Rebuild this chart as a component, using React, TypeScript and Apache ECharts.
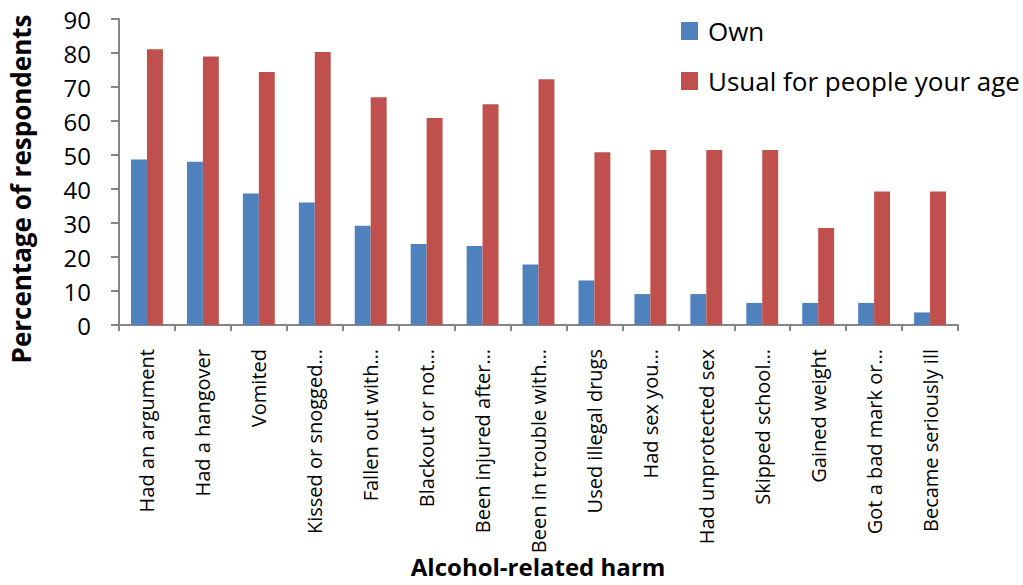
import React, { useEffect, useRef } from "react";
import * as echarts from "echarts";

const categories = [
  "Had an argument",
  "Had a hangover",
  "Vomited",
  "Kissed or snogged…",
  "Fallen out with…",
  "Blackout or not…",
  "Been injured after…",
  "Been in trouble with…",
  "Used illegal drugs",
  "Had sex you…",
  "Had unprotected sex",
  "Skipped school…",
  "Gained weight",
  "Got a bad mark or…",
  "Became seriously ill",
];
const ownValues = [48.7, 48.0, 38.7, 36.0, 29.2, 23.8, 23.2, 17.8, 13.1, 9.1, 9.1, 6.5, 6.5, 6.5, 3.7];
const usualValues = [81.1, 79.0, 74.4, 80.3, 67.0, 60.9, 64.9, 72.3, 50.8, 51.5, 51.5, 51.5, 28.5, 39.3, 39.3];
const seriesNames = ["Own", "Usual for people your age"];
const yTicks = { min: 0, max: 90, interval: 10 };
const yTitle = "Percentage of respondents";
const xTitle = "Alcohol-related harm";

const FONT = "'Open Sans', sans-serif";
const AXIS = "#868686";

export default function App() {
  const ref = useRef<HTMLDivElement>(null);
  useEffect(() => {
    if (!ref.current) return;
    const chart = echarts.init(ref.current, null, { renderer: "svg" });
    chart.setOption({
      animation: false,
      backgroundColor: "#ffffff",
      textStyle: { fontFamily: FONT },
      grid: { left: 119, right: 65, top: 19, bottom: 260, containLabel: false },
      legend: {
        orient: "vertical",
        left: 676,
        top: 13,
        itemWidth: 17,
        itemHeight: 18,
        itemGap: 24,
        icon: "rect",
        textStyle: { fontSize: 26, color: "#000", fontFamily: FONT, padding: [0, 0, 0, 5] },
        data: seriesNames,
      },
      xAxis: {
        type: "category",
        data: categories,
        axisLine: { lineStyle: { color: AXIS, width: 2 } },
        axisTick: { show: true, length: 6, lineStyle: { color: AXIS, width: 2 }, alignWithLabel: false },
        axisLabel: {
          rotate: 90,
          interval: 0,
          fontSize: 20,
          color: "#000",
          margin: 24,
          fontFamily: FONT,
        },
        splitLine: { show: false },
      },
      yAxis: {
        type: "value",
        min: yTicks.min,
        max: yTicks.max,
        interval: yTicks.interval,
        axisLine: { show: true, lineStyle: { color: AXIS, width: 2 } },
        axisTick: { show: true, length: 8, lineStyle: { color: AXIS, width: 2 } },
        axisLabel: { fontSize: 24, color: "#000", margin: 28, fontFamily: FONT },
        splitLine: { show: false },
      },
      series: [
        {
          name: seriesNames[0],
          type: "bar",
          data: ownValues,
          barGap: "0%",
          barCategoryGap: "43%",
          itemStyle: { color: "#4F81BD" },
        },
        {
          name: seriesNames[1],
          type: "bar",
          data: usualValues,
          barGap: "0%",
          barCategoryGap: "43%",
          itemStyle: { color: "#C0504D" },
        },
      ],
      graphic: [
        {
          type: "text",
          x: 21,
          y: 189,
          rotation: Math.PI / 2,
          style: {
            text: yTitle,
            fontSize: 26,
            fontWeight: "bold",
            fontFamily: FONT,
            fill: "#000",
            align: "center",
            verticalAlign: "middle",
          },
        },
        {
          type: "text",
          x: 538,
          y: 566,
          style: {
            text: xTitle,
            fontSize: 24,
            fontWeight: "bold",
            fontFamily: FONT,
            fill: "#000",
            align: "center",
            verticalAlign: "middle",
          },
        },
      ],
    });
    return () => chart.dispose();
  }, []);
  return (
    <div
      ref={ref}
      style={{ position: "fixed", left: 0, top: 0, width: 1023, height: 585 }}
    />
  );
}
